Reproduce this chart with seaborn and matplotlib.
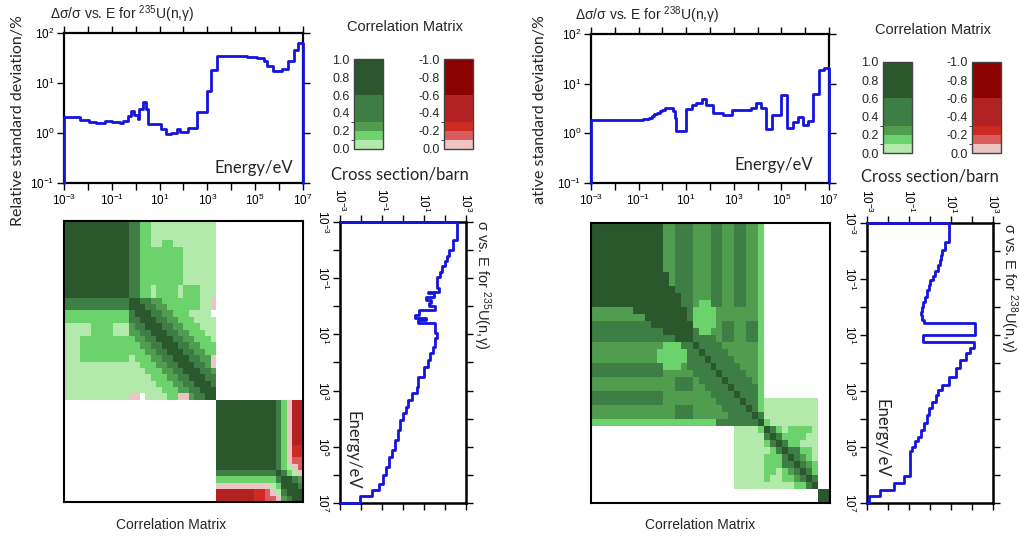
import numpy as np
import pandas as pd
import matplotlib
matplotlib.use('Agg')
import matplotlib.pyplot as plt
import seaborn as sns
from matplotlib.colors import ListedColormap, BoundaryNorm
from matplotlib.ticker import NullLocator
from matplotlib.transforms import Bbox

# ---- relative standard deviation (%), step values starting at each energy (eV)
u235_unc_e = [1e-3, 4.7e-3, 1.06e-2, 2.2e-2, 5e-2, 0.1, 0.21, 0.29, 0.47, 0.64, 0.89,
              1.23, 1.36, 2.1, 2.8, 3.3, 11.1, 19.2, 31, 51, 70, 157, 353, 993, 1420,
              2450, 4.5e4, 1.19e5, 2.27e5, 3.14e5, 5.6e5, 1.35e6, 2.33e6, 4.18e6, 6.35e6]
u235_unc = [2.1, 1.85, 1.65, 1.62, 1.72, 1.68, 1.58, 1.75, 2.2, 2.8, 2.3,
            1.9, 3.0, 4.2, 3.0, 1.48, 1.23, 0.95, 1.02, 1.2, 1.05, 1.25, 2.6, 6.9, 18.4,
            34, 33, 31, 27, 22, 17, 19, 27, 46, 63]

u238_unc_e = [1e-3, 0.1, 0.15, 0.2, 0.27, 0.35, 0.45, 0.6, 0.8, 1.0, 1.3, 1.6, 2.0, 2.4,
              2.9, 3.3, 3.9, 9.4, 16.7, 27, 44, 71, 136, 356, 880, 5.2e3, 8.9e3, 1.45e4,
              2.35e4, 4.06e4, 1e5, 1.73e5, 3.1e5, 5e5, 8.1e5, 1.31e6, 2.13e6, 3.8e6, 6e6]
u238_unc = [1.83, 1.85, 1.9, 1.95, 2.05, 2.2, 2.4, 2.6, 2.8, 3.0, 3.2, 3.3, 3.3, 3.2,
            2.8, 2.0, 1.12, 3.1, 3.8, 4.1, 4.8, 3.7, 2.6, 2.3, 3.0, 3.3, 4.0, 3.3,
            1.2, 2.3, 5.8, 1.3, 1.7, 2.1, 1.45, 1.8, 6.2, 19, 21]

# ---- capture cross section (barn), step values starting at each energy (eV)
u235_cs_e = [1e-3, 4.3e-3, 9.8e-3, 1.66e-2, 2.5e-2, 3.8e-2, 6e-2, 8.7e-2, 0.15, 0.22,
             0.3, 0.34, 0.45, 0.59, 0.78, 1.0, 1.34, 2.0, 2.6, 3.05, 3.8, 9.1, 13.7, 27,
             47, 81, 141, 320, 728, 1260, 2180, 3770, 6500, 1.12e4, 2.56e4, 5.8e4,
             1.32e5, 2.29e5, 5.2e5, 1.03e6, 2.04e6, 3.53e6, 5.78e6]
u235_cs = [360, 232, 160, 130, 100, 75, 55, 42, 40, 53,
           16, 30, 12, 22, 18, 33, 6, 3.7, 12, 5, 33, 42, 33, 26,
           20, 15.5, 10, 5.3, 4.5, 2.6, 1.8, 1.4, 1.0, 0.72, 0.56, 0.41,
           0.29, 0.22, 0.155, 0.107, 0.074, 0.032, 0.009]

u238_cs_e = [1e-3, 4.75e-3, 9.4e-3, 1.4e-2, 2.1e-2, 3.2e-2, 5e-2, 7.5e-2, 0.11, 0.17,
             0.25, 0.43, 0.65, 0.98, 1.5, 1.95, 2.9, 3.87, 10.0, 17.4, 30, 45, 78, 155,
             307, 608, 916, 1380, 2390, 4120, 7130, 1.41e4, 2.44e4, 4.22e4, 6.35e4,
             9.6e4, 1.44e5, 1.12e6, 1.95e6, 3.35e6, 5.8e6]
u238_cs = [8.3, 5.1, 3.8, 3.3, 2.9, 2.4, 1.8, 1.35, 1.0, 0.85,
           0.72, 0.58, 0.48, 0.42, 0.37, 0.4, 0.5, 135, 0.48, 123, 78, 50, 26, 17,
           8, 3.6, 2.5, 1.9, 1.2, 0.93, 0.69, 0.52, 0.36, 0.28, 0.195,
           0.135, 0.113, 0.059, 0.02, 0.0043, 0.0012]

# ---- correlation matrices, one character per cell
# '1'..'5' = 0-0.1, 0.1-0.2, 0.2-0.3, 0.3-0.6, 0.6-1.0 ; 'a'..'e' = same bins negative ; '.' = none
u235_block1 = [
    "5" * 12 + "44" + "22" + "1" * 12,
    "5" * 12 + "44" + "22" + "1" * 12,
    "5" * 12 + "44" + "22" + "1" * 12,
    "5" * 12 + "44" + "22" + "112211111111",
    "5" * 12 + "44" + "22" + "222222111111",
    "5" * 12 + "44" + "22" + "222222111111",
    "5" * 12 + "44" + "22" + "222222111111",
    "5" * 12 + "44" + "22" + "222222111111",
    "5" * 12 + "44" + "22" + "222222111111",
    "5" * 12 + "44" + "22" + "222222111111",
    "5" * 12 + "44" + "22" + "122221222111",
    "5" * 12 + "44" + "22" + "122221222111",
    "4" * 12 + "554433222222211a",
    "4" * 12 + "555443322222211a",
    "2" * 12 + "455544332221111.",
    "2" * 12 + "4455544332221111",
    "111112222111" + "3445554433222111",
    "111112222111" + "3344555443322211",
    "111222222222" + "2334455544332221",
    "111222222222" + "2233445554433222",
    "111222222222" + "2223344555443322",
    "111222222222" + "122233445554433a",
    "1" * 12 + "112223344555443a",
    "1" * 12 + "1112223344555443",
    "1" * 12 + "1111222334455544",
    "1" * 12 + "1111122233445554",
    "1" * 12 + "1111112223344555",
    "1" * 12 + "aa.111122aa34455",
]
u235_block2 = [
    "5555555555542add", "5555555555542add", "5555555555542add", "5555555555542add",
    "5555555555542add", "5555555555542add", "5555555555542add", "5555555555542acc",
    "5555555555542acc", "5555555555542abb", "55555555555421ab", "444444444445421a",
    "2222222222245543", "aaaaaaaaaa125554", "dddddddccba14555", "dddddddccbba3455",
]
u235_corr_rows = [r + "." * 16 for r in u235_block1] + ["." * 28 + r for r in u235_block2]

u238_corr_rows = [
    "5" * 12 + "33444333443344332" + "." * 11,
    "5" * 12 + "33444333443344332" + "." * 11,
    "5" * 12 + "33444333443344332" + "." * 11,
    "5" * 12 + "33444333443344332" + "." * 11,
    "5" * 12 + "33444333443344332" + "." * 11,
    "5" * 12 + "33444333443344332" + "." * 11,
    "5" * 12 + "33444333443344332" + "." * 11,
    "5" * 13 + "3444333443344332" + "." * 11,
    "5" * 13 + "3444333443344332" + "." * 11,
    "5" * 14 + "444333443344332" + "." * 11,
    "5" * 15 + "44333443344332" + "." * 11,
    "5" * 15 + "44322443344332" + "." * 11,
    "3" * 7 + "5" * 9 + "4" + "2222" + "3" * 7 + "2" + "." * 11,
    "3" * 9 + "5" * 7 + "4" + "2222" + "3" * 7 + "2" + "." * 11,
    "4" * 10 + "5" * 7 + "2222" + "3" + "44" + "33" + "44" + "2" + "." * 11,
    "4" * 12 + "5" * 5 + "4" + "22" + "33" + "44" + "33" + "44" + "2" + "." * 11,
    "4" * 12 + "44" + "555" + "4444" + "3" + "44" + "33" + "44" + "2" + "." * 11,
    "3" * 12 + "222" + "44" + "5" + "4444" + "3" * 6 + "2" + "." * 11,
    "3" * 11 + "22222" + "44" + "5" + "4444" + "3" * 5 + "2" + "." * 11,
    "3" * 11 + "22222" + "444" + "5" + "4444" + "3" * 4 + "2" + "." * 11,
    "4" * 12 + "222" + "3" + "4444" + "5" + "4444" + "333" + "2" + "." * 11,
    "4" * 12 + "33333" + "4444" + "5" + "4444" + "33" + "2" + "." * 11,
    "3" * 14 + "444" + "3" + "4444" + "5" + "4444" + "3" + "2" + "." * 11,
    "3" * 14 + "444" + "33" + "4444" + "5" + "4444" + "2" + "." * 11,
    "4" * 12 + "3" * 8 + "4444" + "5" + "444" + "2" + "." * 11,
    "4" * 12 + "3" * 9 + "4444" + "5" + "44" + "2" + "1" * 9 + "..",
    "3" * 14 + "444" + "3" * 5 + "4444" + "5" + "4" + "2" + "1" * 9 + "..",
    "3" * 14 + "444" + "3" * 6 + "4444" + "5" + "4" + "1" * 9 + "..",
    "2" * 21 + "4" * 7 + "5" + "2" + "1" * 8 + "..",
    "." * 24 + "11112" + "542122221" + "..",
    "." * 24 + "11111" + "454222211" + "..",
    "." * 24 + "11111" + "245422111" + "..",
    "." * 24 + "11111" + "124544221" + "..",
    "." * 24 + "11111" + "222454321" + "..",
    "." * 24 + "11111" + "222445432" + "..",
    "." * 24 + "11111" + "221234542" + "..",
    "." * 24 + "11111" + "211223454" + "..",
    "." * 24 + "11111" + "111112245" + "..",
    "." * 38 + "55",
    "." * 38 + "55",
]

level_values = {'.': np.nan, '1': 0.05, '2': 0.15, '3': 0.25, '4': 0.45, '5': 0.8,
                'a': -0.05, 'b': -0.15, 'c': -0.25, 'd': -0.45, 'e': -0.8}

green_colors = ['#b3eaac', '#6cd26c', '#509d50', '#3e7e44', '#2b572d']
red_colors = ['#ecc4c4', '#d85c5c', '#cc2a22', '#b22222', '#8b0000']
bin_edges = [0, 0.1, 0.2, 0.3, 0.6, 1.0]
blue = '#1414dc'

W, H = 1020, 542
sns.set_style('ticks')
plt.rcParams['font.family'] = ['Liberation Sans', 'DejaVu Sans']
plt.rcParams['mathtext.default'] = 'regular'
calibri_like = ['Lato', 'DejaVu Sans']

fig = plt.figure(figsize=(W / 100, H / 100), dpi=100)


def rect(x0, y0, x1, y1):
    return [x0 / W, 1 - y1 / H, (x1 - x0) / W, (y1 - y0) / H]


def ftext(x, y, s, **kw):
    return fig.text(x / W, 1 - y / H, s, **kw)


def step_xy(edges, vals, floor):
    xs, ys = [edges[0]], [floor]
    for i, v in enumerate(vals):
        xs += [edges[i], edges[i + 1]]
        ys += [v, v]
    xs.append(edges[-1])
    ys.append(floor)
    return xs, ys


def pow_labels(ks):
    return [f'$10^{{{k}}}$' if k % 2 else '' for k in ks]


def draw_unc(box, e, v):
    ax = fig.add_axes(rect(*box))
    ax.set_xscale('log')
    ax.set_yscale('log')
    xs, ys = step_xy(e + [1e7], v, 0.1)
    sns.lineplot(x=xs, y=ys, ax=ax, sort=False, estimator=None, color=blue, lw=2,
                 clip_on=False, zorder=3)
    ax.set_xlim(1e-3, 1e7)
    ax.set_ylim(0.1, 100)
    ks = list(range(-3, 8))
    ax.set_xticks([10.0 ** k for k in ks])
    ax.set_xticklabels(pow_labels(ks))
    ax.set_yticks([0.1, 1, 10, 100])
    ax.set_yticklabels(['$10^{-1}$', '$10^{0}$', '$10^{1}$', '$10^{2}$'])
    ax.xaxis.set_minor_locator(NullLocator())
    ax.yaxis.set_minor_locator(NullLocator())
    ax.tick_params(direction='out', length=5, width=1, top=True, right=True,
                   labelsize=8.5, pad=2, colors='black')
    for sp in ax.spines.values():
        sp.set_linewidth(1.6)
        sp.set_color('black')
    ax.set_xlabel('')
    ax.set_ylabel('')
    return ax


def draw_cs(box, e, s):
    ax = fig.add_axes(rect(*box))
    ax.set_xscale('log')
    ax.set_yscale('log')
    ys, xs = step_xy(e + [1e7], s, 1e-3)
    sns.lineplot(x=xs, y=ys, ax=ax, sort=False, estimator=None, color=blue, lw=2,
                 clip_on=False, zorder=3)
    ax.set_xlim(1e-3, 1e3)
    ax.set_ylim(1e7, 1e-3)
    kx = list(range(-3, 4))
    ky = list(range(-3, 8))
    ax.set_xticks([10.0 ** k for k in kx])
    ax.set_xticklabels(pow_labels(kx), rotation=-90)
    ax.set_yticks([10.0 ** k for k in ky])
    ax.set_yticklabels(pow_labels(ky), rotation=-90, va='center')
    ax.xaxis.set_minor_locator(NullLocator())
    ax.yaxis.set_minor_locator(NullLocator())
    ax.tick_params(direction='out', length=5, width=1, top=True, bottom=True, right=True,
                   labeltop=True, labelbottom=False, labelsize=8.5, pad=2, colors='black')
    for sp in ax.spines.values():
        sp.set_linewidth(1.8)
        sp.set_color('black')
    ax.set_xlabel('')
    ax.set_ylabel('')
    return ax


def draw_matrix(box, rows):
    ax = fig.add_axes(rect(*box))
    mat = pd.DataFrame([[level_values[ch] for ch in r] for r in rows])
    cmap = ListedColormap(red_colors[::-1] + green_colors)
    norm = BoundaryNorm([-1, -0.6, -0.3, -0.2, -0.1, 0, 0.1, 0.2, 0.3, 0.6, 1], cmap.N)
    sns.heatmap(mat, ax=ax, cmap=cmap, norm=norm, cbar=False,
                xticklabels=False, yticklabels=False)
    ax.tick_params(length=0)
    for sp in ax.spines.values():
        sp.set_visible(True)
        sp.set_linewidth(1.5)
        sp.set_color('black')
    return ax


def draw_cbar(box, colors, labels):
    cax = fig.add_axes(rect(*box))
    cm = ListedColormap(colors)
    nm = BoundaryNorm(bin_edges, cm.N)
    cb = fig.colorbar(plt.cm.ScalarMappable(norm=nm, cmap=cm), cax=cax,
                      boundaries=bin_edges, spacing='proportional',
                      ticks=[0, 0.2, 0.4, 0.6, 0.8, 1.0])
    cb.ax.yaxis.set_ticks_position('left')
    cb.ax.set_yticklabels(labels)
    cb.ax.tick_params(length=0, labelsize=9, pad=3)
    cb.outline.set_linewidth(1)
    cb.outline.set_edgecolor('#444444')


green_labels = ['0.0', '0.2', '0.4', '0.6', '0.8', '1.0']
red_labels = ['0.0', '-0.2', '-0.4', '-0.6', '-0.8', '-1.0']

panels = [
    dict(iso='235', unc=(64, 33, 303, 183), mat=(64, 221, 303, 502), cs=(340, 222, 466, 503),
         cbg=(354, 59, 383, 149), cbr=(444, 59, 473, 149), title=(50, 14), ctitle=(405, 27),
         cslab=(400, 175), ylab=18, en=(293, 168), cstitle=(482, 220), csen=(353, 450),
         bottom=(171, 525), ue=u235_unc_e, uv=u235_unc, ce=u235_cs_e, cv=u235_cs,
         rows=u235_corr_rows),
    dict(iso='238', unc=(591, 34, 829, 183), mat=(591, 223, 830, 503), cs=(867, 223, 993, 503),
         cbg=(883, 62, 912, 153), cbr=(972, 62, 1001, 153), title=(575, 15), ctitle=(933, 30),
         cslab=(930, 177), ylab=540, en=(813, 165), cstitle=(1009, 223), csen=(882, 438),
         bottom=(700, 525), ue=u238_unc_e, uv=u238_unc, ce=u238_cs_e, cv=u238_cs,
         rows=u238_corr_rows),
]

for p in panels:
    draw_unc(p['unc'], p['ue'], p['uv'])
    draw_matrix(p['mat'], p['rows'])
    draw_cs(p['cs'], p['ce'], p['cv'])
    draw_cbar(p['cbg'], green_colors, green_labels)
    draw_cbar(p['cbr'], red_colors, red_labels)

    iso = p['iso']
    ftext(*p['title'], f'Δσ/σ vs. E for $^{{{iso}}}$U(n,γ)', ha='left', va='center', fontsize=10)
    ftext(*p['ctitle'], 'Correlation Matrix', ha='center', va='center', fontsize=10.5)
    ftext(*p['cslab'], 'Cross section/barn', ha='center', va='center', fontsize=12,
          family=calibri_like)
    ftext(*p['en'], 'Energy/eV', ha='right', va='center', fontsize=12, family=calibri_like)
    ftext(*p['cstitle'], f'σ vs. E for $^{{{iso}}}$U(n,γ)', ha='center', va='top',
          rotation=-90, fontsize=10.5)
    ftext(*p['csen'], 'Energy/eV', ha='center', va='center', rotation=-90, fontsize=12,
          family=calibri_like)
    ftext(*p['bottom'], 'Correlation Matrix', ha='center', va='center', fontsize=10)
    yl = ftext(p['ylab'], 121, 'Relative standard deviation/%', ha='center', va='center',
               rotation=90, fontsize=11.5, family=calibri_like)
    if iso == '238':
        # the right-hand copy of the label is only partly visible
        yl.set_clip_box(Bbox.from_extents(0, H - 205, W, H))
        yl.set_clip_on(True)

fig.savefig('out.png', dpi=100)
